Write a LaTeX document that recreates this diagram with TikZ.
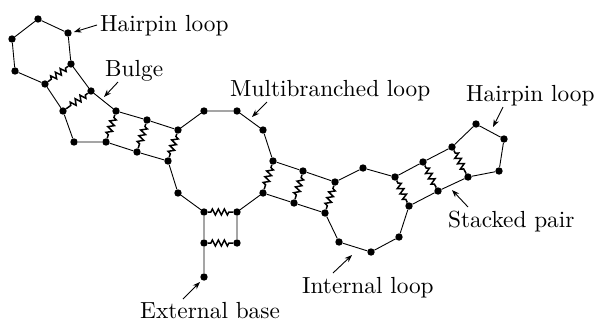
\documentclass[tikz,border=0pt]{standalone}
\usepackage{fontspec}
\newfontfamily\labfont{lmroman10-regular}[Extension=.otf]
\usetikzlibrary{decorations.pathmorphing,arrows.meta}
\begin{document}
\begin{tikzpicture}[x=1pt,y=-1pt,
  base/.style={circle,fill=black,inner sep=0pt,minimum size=7.4pt},
  bb/.style={line width=0.9pt},
  pair/.style={line width=1.5pt,decorate,decoration={zigzag,segment length=6pt,amplitude=3pt,pre length=3pt,post length=3pt}},
  lab/.style={anchor=base west,inner sep=0pt,font=\labfont\fontsize{23.3}{27}\selectfont},
  pt/.style={line width=0.9pt,-{Stealth[length=7.5pt,width=5.5pt]}}]
\useasboundingbox (0,0) rectangle (594,322);
% bases
\foreach \n/\x/\y in {A1/38/19,A2/68/33,A3/12/39,A4/15/71,A5/71/64,A6/45/84,A7/91/91,A8/63/111,A9/116/111,A10/74/142,A11/106/142,A12/147/120,A13/137/152,A14/178/130,A15/168/161,
B1/204/111,B2/237/111,B3/263/130,B4/273/161,B5/263/193,B6/178/193,B7/204/212,B8/237/212,C1/204/243,C2/237/243,X/204/277,
D1/303/171,D2/294/203,D3/335/182,D4/325/213,
E1/339/242,E2/371/252,E3/399/237,E4/409/206,E5/395/177,E6/363/168,
F1/423/162,F2/438/191,G1/452/147,G2/468/177,H1/476/124,H2/504/139,H3/499/171}
  \node[base] (\n) at (\x,\y) {};
% backbone
\draw[bb] (A5)--(A2)--(A1)--(A3)--(A4)--(A6);
\draw[bb] (A6)--(A8)--(A10)--(A11)--(A13)--(A15)--(B6)--(B7)--(C1)--(X);
\draw[bb] (A5)--(A7)--(A9)--(A12)--(A14)--(B1)--(B2)--(B3)--(B4)--(D1)--(D3)--(E6)--(E5)--(F1)--(G1)--(H1)--(H2)--(H3)--(G2)--(F2)--(E4)--(E3)--(E2)--(E1)--(D4)--(D2)--(B5)--(B8)--(C2);
% pairs
\foreach \a/\b in {A5/A6,A7/A8,A9/A11,A12/A13,A14/A15,B4/B5,B7/B8,C1/C2,D1/D2,D3/D4,E5/E4,F1/F2,G1/G2}
  \draw[pair] (\a)--(\b);
% labels
\node[lab] (lh1) at (100,31) {Hairpin loop};
\node[lab] (lbu) at (105,76) {Bulge};
\node[lab] (lmu) at (230,96) {Multibranched loop};
\node[lab] (lh2) at (466,101) {Hairpin loop};
\node[lab] (lst) at (448,227) {Stacked pair};
\node[lab] (lin) at (302,293) {Internal loop};
\node[lab] (lex) at (140,318) {External base};
% arrows
\coordinate (t1) at (97,25);  \coordinate (h1) at (74,32);
\coordinate (t2) at (118,82); \coordinate (h2) at (104,97);
\coordinate (t3) at (267,102);\coordinate (h3) at (252,117);
\coordinate (t4) at (503,107);\coordinate (h4) at (493,127);
\coordinate (t5) at (468,207);\coordinate (h5) at (452,190);
\coordinate (t6) at (333,273);\coordinate (h6) at (352,255);
\coordinate (t7) at (183,299);\coordinate (h7) at (200,282);
\foreach \i in {1,...,7} \draw[pt] (t\i)--(h\i);
\end{tikzpicture}
\end{document}
